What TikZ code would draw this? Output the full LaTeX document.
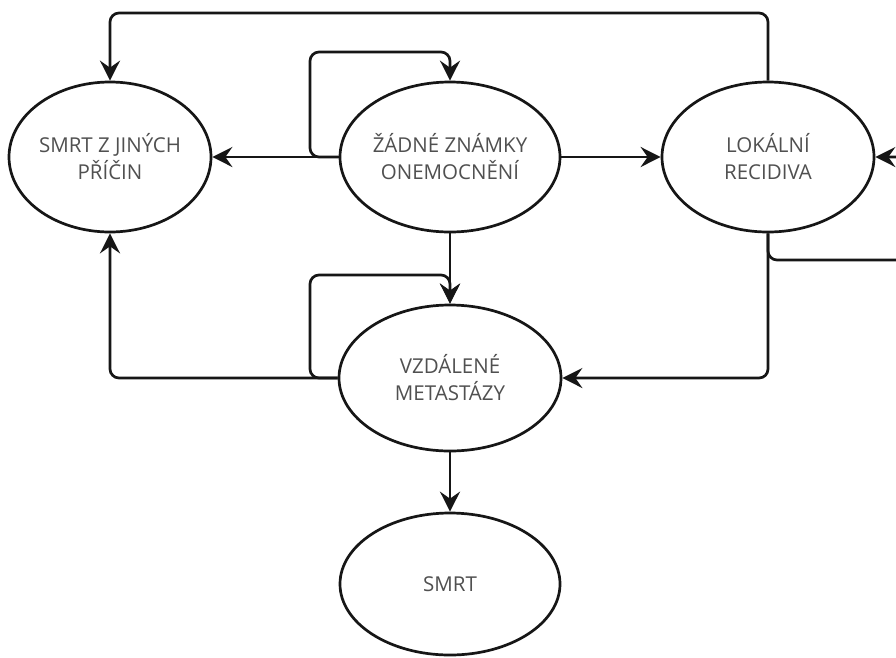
\documentclass[tikz,border=0pt]{standalone}
\usepackage{fontspec}
\setmainfont{Open Sans}
\usetikzlibrary{shapes.geometric,arrows.meta}
\definecolor{txt}{HTML}{505050}
\definecolor{ln}{HTML}{161616}
\tikzset{
  state/.style={ellipse, draw=ln, line width=2.7pt, fill=white, inner sep=0pt,
    align=center, text=txt, font=\fontsize{20.5}{27}\selectfont},
  conn/.style={draw=ln, line width=2.7pt, rounded corners=9pt,
    -{Stealth[length=20pt,width=20pt,inset=7pt]}},
}
\begin{document}
\begin{tikzpicture}[x=1pt,y=-1pt]
\useasboundingbox (0,0) rectangle (896,657);
\clip (0,0) rectangle (896,657);
\fill[white] (0,0) rectangle (896,657);
\node[state, minimum width=202pt, minimum height=150pt] (jine) at (110,157) {SMRT Z JINÝCH\\PŘÍČIN};
\node[state, minimum width=220pt, minimum height=150pt] (zadne) at (450,157) {ŽÁDNÉ ZNÁMKY\\ONEMOCNĚNÍ};
\node[state, minimum width=212pt, minimum height=150pt] (lok) at (768,157) {LOKÁLNÍ\\RECIDIVA};
\node[state, minimum width=222pt, minimum height=146pt] (vzd) at (450,378) {VZDÁLENÉ\\METASTÁZY};
\node[state, minimum width=220pt, minimum height=142pt] (smrt) at (450,584) {SMRT};

\draw[conn] (zadne.west) -- (jine.east);
\draw[conn] (zadne.west) -| (310,52) -| (zadne.north);
\draw[conn] (zadne.east) -- (lok.west);
\draw[conn] (lok.north) -- (768,13) -| (jine.north);
\draw[conn] (zadne.south) -- (vzd.north);
\draw[conn] (vzd.west) -| (310,275) -| (vzd.north);
\draw[conn] (vzd.west) -| (jine.south);
\draw[conn] (lok.south) |- (vzd.east);
\draw[conn] (lok.south) |- (930,260) |- (lok.east);
\draw[conn] (vzd.south) -- (smrt.north);
\end{tikzpicture}
\end{document}
